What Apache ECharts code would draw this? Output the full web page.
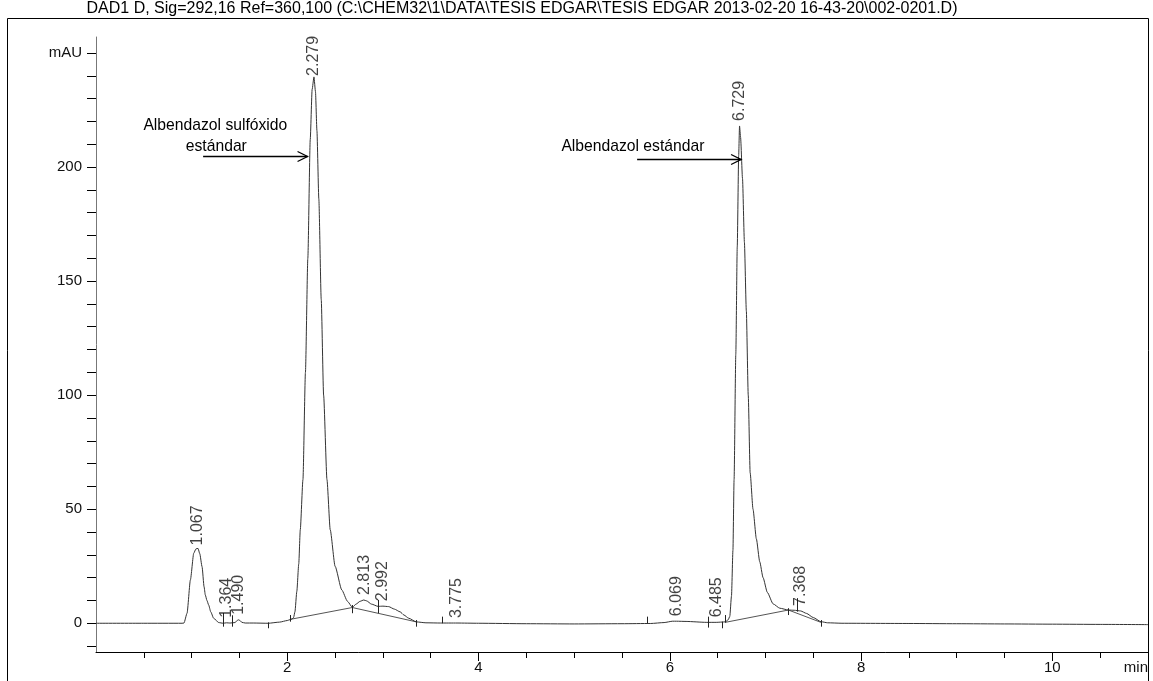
<!DOCTYPE html>
<html>
<head>
<meta charset="utf-8">
<title>DAD1 D chromatogram</title>
<script src="https://cdn.jsdelivr.net/npm/echarts@6/dist/echarts.min.js"></script>
<style>
  html, body { margin: 0; padding: 0; background: #fff; }
  #chart { width: 1153px; height: 681px; }
</style>
</head>
<body>
<div id="chart"></div>
<script>
// Detector trace: [time (min), absorbance (mAU)]
const signal = [
  [0, 0], [0.5, 0], [0.9, 0], [0.92, 0.1], [0.952, 4.4], [0.987, 19], [1.022, 30.7],
  [1.045, 32.6], [1.067, 32.8], [1.085, 30.5], [1.109, 24.8], [1.13, 16], [1.143, 12.4],
  [1.16, 10], [1.178, 8], [1.2, 5], [1.23, 2.2], [1.283, 0.3], [1.33, 0], [1.364, 0.2],
  [1.40, 0.1], [1.455, 0.3], [1.475, 1.2], [1.49, 1.5], [1.505, 1.2], [1.525, 0.4],
  [1.56, 0.1], [1.65, 0.1], [1.80, 0], [1.92, 0.5], [2.00, 1.2], [2.03, 1.6], [2.05, 1.9],
  [2.066, 2.5], [2.08, 5], [2.10, 14], [2.12, 26], [2.136, 41], [2.164, 63], [2.19, 110],
  [2.215, 160], [2.24, 212], [2.26, 234], [2.279, 239.5], [2.295, 233], [2.31, 216],
  [2.33, 186], [2.355, 142], [2.38, 100], [2.415, 63], [2.449, 41], [2.50, 25],
  [2.57, 14.6], [2.63, 9.6], [2.68, 7.0], [2.72, 8.4], [2.76, 9.6], [2.80, 10.2],
  [2.83, 9.8], [2.88, 8.4], [2.95, 7.4], [3.00, 7.5], [3.06, 7.3], [3.12, 6.2], [3.18, 5],
  [3.22, 3.6], [3.27, 2.2], [3.35, 0.6], [3.45, 0.2], [3.6, 0.1], [3.775, 0.1], [4.0, 0],
  [4.5, -0.2], [5.0, -0.3], [5.5, -0.2], [5.8, -0.1], [5.94, 0.3], [6.03, 0.9],
  [6.069, 0.9], [6.17, 0.8], [6.38, 0.4], [6.485, 0.4], [6.58, 0.6], [6.61, 1.5],
  [6.627, 3], [6.645, 12], [6.66, 32], [6.672, 63], [6.69, 118], [6.705, 165], [6.72, 205],
  [6.729, 218], [6.74, 213], [6.76, 195], [6.78, 167], [6.80, 137], [6.82, 100], [6.84, 66],
  [6.87, 50], [6.905, 37], [6.94, 27], [6.975, 20], [7.02, 13.5], [7.08, 8.5], [7.15, 6.6],
  [7.24, 5.8], [7.30, 5.7], [7.368, 5.4], [7.43, 4.3], [7.5, 2.5], [7.58, 0.7], [7.65, 0.2],
  [7.8, 0], [8.5, -0.1], [9.0, -0.2], [9.5, -0.3], [10.0, -0.4], [10.5, -0.5], [11.0, -0.6]
];

// Integration baselines drawn under the overlapping peaks
const baselineA = [[2.03, 1.7], [2.68, 6.9], [3.35, 0.6]];
const baselineB = [[6.58, 0.4], [7.24, 5.8], [7.58, 0.4]];

// Peak start/stop marks: [time, low mAU, high mAU]
const peakMarks = [
  [1.33, -1.5, 4.5], [1.42, -1.5, 3.5], [1.80, -2.2, 0.4], [2.03, 0.7, 3.6],
  [2.68, 4.4, 8.0], [2.95, 4.4, 10.2], [3.35, -1.5, 1.4], [3.62, 0, 2.9],
  [5.759, 0, 2.9], [6.40, -1.9, 2.9], [6.55, -2.2, 0.7], [6.58, 0.3, 3.6],
  [7.24, 3.6, 6.6], [7.33, 5.1, 11.0], [7.58, -1.5, 1.4]
];

// Retention times of the integrated peaks and the trace height under each label
const peakTimes = [1.067, 1.364, 1.490, 2.279, 2.813, 2.992, 3.775, 6.069, 6.485, 6.729, 7.368];
const peakLevels = [32.8, 0.2, 1.5, 239.5, 10.2, 7.5, 0.1, 0.9, 0.4, 218, 5.4];

// Axis tick values
const xMinorTicks = [0.5, 1, 1.5, 2, 2.5, 3, 3.5, 4, 4.5, 5, 5.5, 6, 6.5, 7, 7.5, 8, 8.5, 9, 9.5, 10, 10.5, 11];
const xMajorTicks = [2, 4, 6, 8, 10];
const xLabels = [2, 4, 6, 8, 10, 11];
const yTicks = [-10, 0, 10, 20, 30, 40, 50, 60, 70, 80, 90, 100, 110, 120, 130, 140, 150,
  160, 170, 180, 190, 200, 210, 220, 230, 240, 250];
const yLabels = [0, 50, 100, 150, 200, 250];

const titleText = 'DAD1 D, Sig=292,16 Ref=360,100 (C:\\CHEM32\\1\\DATA\\TESIS EDGAR\\TESIS EDGAR 2013-02-20 16-43-20\\002-0201.D)';

const FONT = "'Liberation Sans', Arial, sans-serif";
const INK = '#111';
const TRACE = '#333';

const chart = echarts.init(document.getElementById('chart'), null, { renderer: 'canvas' });

const labelPoints = peakTimes.map((t, i) => ({
  value: [t, peakLevels[i]],
  label: { distance: t === 2.279 ? 1 : (t === 1.067 ? 3 : 5) }
}));

chart.setOption({
  animation: false,
  backgroundColor: '#ffffff',
  grid: { left: 96, right: 5, top: 37, bottom: 29, containLabel: false },
  xAxis: [
    {
      type: 'value', min: 0, max: 11, position: 'bottom',
      axisLine: { show: true, onZero: false, lineStyle: { color: '#000', width: 1 } },
      axisTick: { show: true, length: 6, customValues: xMinorTicks, lineStyle: { color: '#000' } },
      axisLabel: {
        show: true, customValues: xLabels, margin: 8,
        fontFamily: FONT, fontSize: 15, color: INK,
        alignMaxLabel: 'right',
        formatter: v => (v === 11 ? 'min' : String(v))
      },
      splitLine: { show: false }
    },
    {
      type: 'value', min: 0, max: 11, position: 'bottom',
      axisLine: { show: false, onZero: false },
      axisTick: { show: true, length: 9, customValues: xMajorTicks, lineStyle: { color: '#000' } },
      axisLabel: { show: false },
      splitLine: { show: false }
    }
  ],
  yAxis: {
    type: 'value', min: -12.6, max: 257,
    axisLine: { show: true, onZero: false, lineStyle: { color: '#777', width: 1 } },
    axisTick: { show: true, length: 9, customValues: yTicks, lineStyle: { color: '#000' } },
    axisLabel: {
      show: true, customValues: yLabels, margin: 14,
      fontFamily: FONT, fontSize: 15, color: INK,
      formatter: v => (v === 250 ? 'mAU' : String(v))
    },
    splitLine: { show: false }
  },
  series: [
    {
      name: 'DAD1 D', type: 'line', data: signal,
      showSymbol: false, smooth: 0.2, smoothMonotone: 'x',
      lineStyle: { color: TRACE, width: 1 }, z: 3
    },
    {
      name: 'baseline A', type: 'line', data: baselineA, showSymbol: false,
      lineStyle: { color: '#555', width: 1 }, z: 2
    },
    {
      name: 'baseline B', type: 'line', data: baselineB, showSymbol: false,
      lineStyle: { color: '#555', width: 1 }, z: 2
    },
    {
      name: 'marks', type: 'custom', data: peakMarks,
      encode: { x: 0, y: [1, 2] },
      renderItem: (params, api) => {
        const a = api.coord([api.value(0), api.value(1)]);
        const b = api.coord([api.value(0), api.value(2)]);
        const x = Math.round(a[0]) + 0.5;
        return {
          type: 'line',
          shape: { x1: x, y1: a[1], x2: x, y2: b[1] },
          style: { stroke: '#222', lineWidth: 1 }
        };
      },
      z: 4
    },
    {
      name: 'labels', type: 'scatter', data: labelPoints,
      symbolSize: 0, silent: true,
      label: {
        show: true, position: 'top', rotate: 90,
        align: 'left', verticalAlign: 'middle',
        fontFamily: FONT, fontSize: 16, color: INK,
        formatter: p => p.value[0].toFixed(3)
      },
      z: 5
    }
  ]
});

// Annotations anchored in data space, plus the page frame and header
function px(t, v) { return chart.convertToPixel({ gridIndex: 0 }, [t, v]); }

function arrow(from, to) {
  const a = px(from[0], from[1]);
  const b = px(to[0], to[1]);
  const y = Math.round(a[1]) + 0.5;
  return [
    { type: 'line', shape: { x1: a[0], y1: y, x2: b[0], y2: y },
      style: { stroke: '#000', lineWidth: 1.3 }, z: 10 },
    { type: 'polyline', shape: { points: [[b[0] - 10, y - 5], [b[0], y], [b[0] - 10, y + 5]] },
      style: { stroke: '#000', lineWidth: 1.3, fill: null }, z: 10 }
  ];
}

function note(text, t, v) {
  const p = px(t, v);
  return {
    type: 'text', x: p[0], y: p[1], z: 10,
    style: { text: text, fontFamily: FONT, fontSize: 15.7, fill: '#000',
             align: 'center', verticalAlign: 'middle' }
  };
}

const graphics = [
  { type: 'rect', shape: { x: 7.5, y: 18.5, width: 1141, height: 700 },
    style: { stroke: '#000', fill: null, lineWidth: 1 }, z: 0, silent: true },
  { type: 'text', x: 522, y: 9, z: 10,
    style: { text: titleText, fontFamily: FONT, fontSize: 16, fill: '#000',
             align: 'center', verticalAlign: 'middle' } },
  note('Albendazol sulfóxido', 1.248, 218.3),
  note('estándar', 1.258, 209.1),
  note('Albendazol estándar', 5.614, 209.1)
].concat(arrow([1.12, 204.8], [2.212, 204.8]))
 .concat(arrow([5.658, 203.5], [6.745, 203.5]));

chart.setOption({ graphic: graphics });
</script>
</body>
</html>
